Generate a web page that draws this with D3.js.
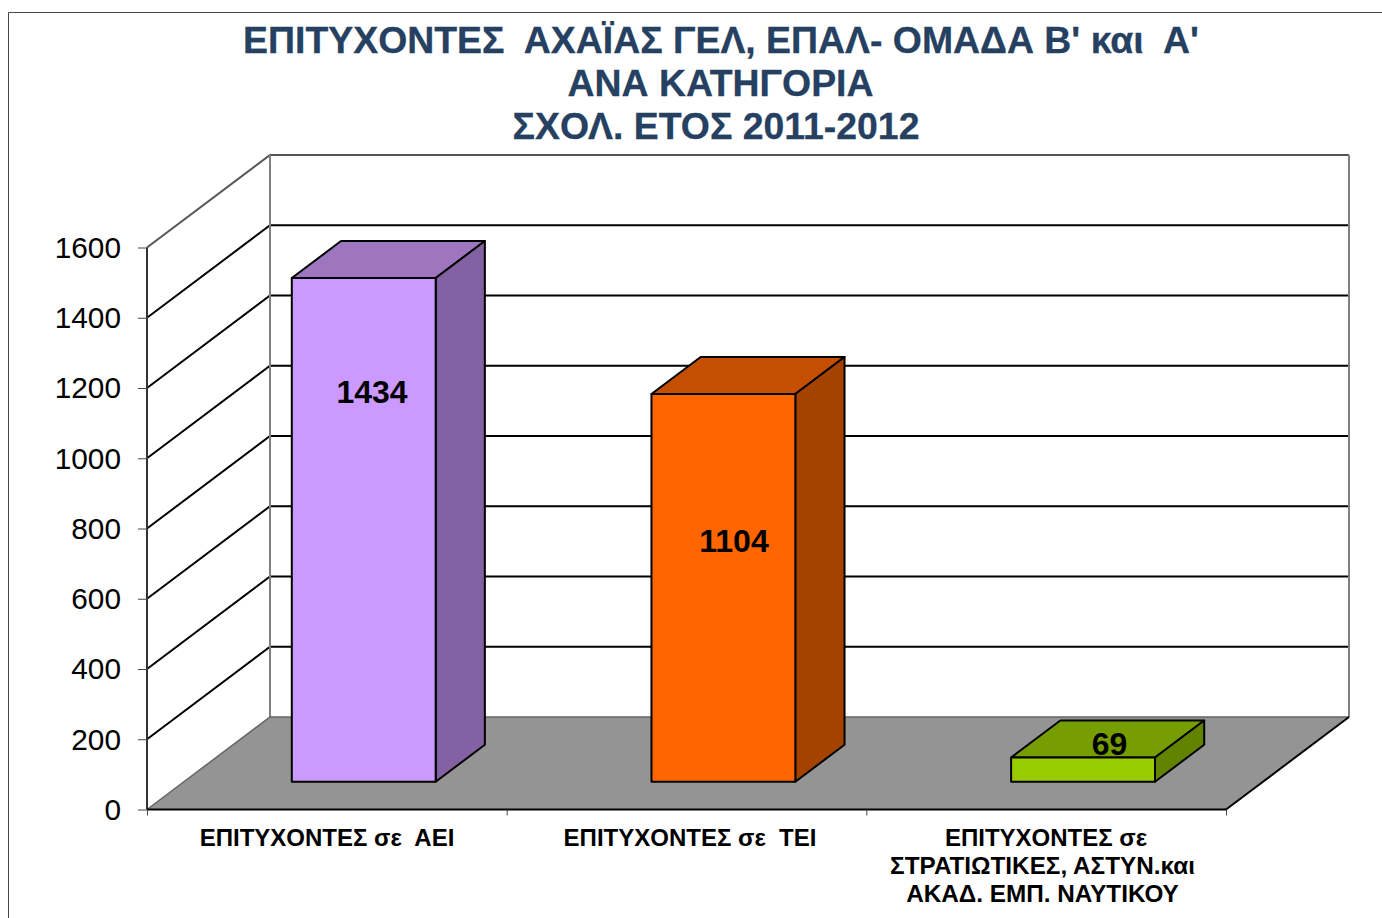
<!DOCTYPE html>
<html><head><meta charset="utf-8">
<script src="https://cdn.jsdelivr.net/npm/d3@7"></script>
<style>html,body{margin:0;padding:0;background:#fff;overflow:hidden}svg{display:block}text{font-family:"Liberation Sans",Arial,sans-serif;white-space:pre}</style>
</head><body><svg id="c" width="1382" height="918"></svg>
<script>
const titleLines = ["ΕΠΙΤΥΧΟΝΤΕΣ  ΑΧΑΪΑΣ ΓΕΛ, ΕΠΑΛ- ΟΜΑΔΑ Β' και  Α'", "ΑΝΑ ΚΑΤΗΓΟΡΙΑ", "ΣΧΟΛ. ΕΤΟΣ 2011-2012"];
const categories = ["ΕΠΙΤΥΧΟΝΤΕΣ σε  ΑΕΙ", "ΕΠΙΤΥΧΟΝΤΕΣ σε  ΤΕΙ", "ΕΠΙΤΥΧΟΝΤΕΣ σε|ΣΤΡΑΤΙΩΤΙΚΕΣ, ΑΣΤΥΝ.και|ΑΚΑΔ. ΕΜΠ. ΝΑΥΤΙΚΟΥ"];
const values = [1434, 1104, 69];
const frontColors = ["#CC99FF", "#FF6600", "#99CC00"];
const topColors = ["#9E76C0", "#C44F00", "#769E00"];
const sideColors = ["#8361A3", "#A44200", "#628300"];
const yTicks = [0, 200, 400, 600, 800, 1000, 1200, 1400, 1600];

const svg = d3.select("#c");
const x = d3.scaleBand().domain(d3.range(categories.length)).range([147, 1226]).paddingInner(0.6).paddingOuter(0.3);
const y = d3.scaleLinear().domain([0, 1600]).range([809.5, 247.5]);
const z = d3.scaleLinear().domain([0, 1]).range([0, 1]);
const depthX = 123, depthY = -92.5;
const P = (px, v, d) => [px + depthX * z(d), y(v) + depthY * z(d)];
const poly = pts => "M" + pts.map(p => p.join(",")).join("L") + "Z";
const x0 = x.range()[0], x1 = x.range()[1];

// frame
svg.append("path").attr("d", "M1382,12.5H8.5V918").attr("fill", "none").attr("stroke", "#444").attr("stroke-width", 1);

// title
svg.append("g").selectAll("text").data(titleLines).join("text")
  .attr("x", (d, i) => [721, 720.5, 716][i]).attr("y", (d, i) => 53 + i * 43)
  .attr("text-anchor", "middle").attr("font-size", 37.4).attr("font-weight", "bold").attr("fill", "#254061")
  .attr("stroke", "#254061").attr("stroke-width", 0.3).text(d => d);

// floor
svg.append("path").attr("d", poly([P(x0, 0, 0), P(x1, 0, 0), P(x1, 0, 1), P(x0, 0, 1)])).attr("fill", "#949494");

// gridlines: side wall and back wall
const grid = svg.append("g").attr("fill", "none").attr("stroke-width", 2);
grid.selectAll("path").data(yTicks.filter(t => t > 0)).join("path")
  .attr("d", t => d3.line()([P(x0, t, 0), P(x0, t, 1), P(x1, t, 1)]))
  .attr("stroke", t => t === 1600 ? "#555" : "#000");
// wall edges
svg.append("path").attr("fill", "none").attr("stroke", "#808080").attr("stroke-width", 2)
  .attr("d", d3.line()([P(x0, 0, 1), P(x0, 1600, 1)]) + d3.line()([P(x1, 0, 1), P(x1, 1600, 1)]));
svg.append("path").attr("fill", "none").attr("stroke", "#666").attr("stroke-width", 1.5)
  .attr("d", d3.line()([P(x0, 0, 0), P(x0, 0, 1), P(x1, 0, 1)]));
svg.append("path").attr("fill", "none").attr("stroke", "#000").attr("stroke-width", 2)
  .attr("d", d3.line()([P(x1, 0, 0), P(x1, 0, 1)]));

// axes
const yAxis = d3.axisLeft(y).tickValues(yTicks).tickSize(9).tickPadding(17).tickFormat(d3.format("d"));
const ga = svg.append("g").attr("transform", `translate(${x0},0)`).call(yAxis);
ga.select(".domain").attr("stroke", "#333").attr("stroke-width", 2).attr("d", `M0,${y(0)}V${y(1600)}`);
ga.selectAll("line").attr("stroke", "#444").attr("stroke-width", 1);
ga.selectAll("text").attr("font-size", 29.8).attr("fill", "#000").attr("dy", "0.33em").attr("font-family", '"Liberation Sans"');

const edges = d3.scaleLinear().domain([0, 3]).range([x0, x1]);
const gx = svg.append("g").attr("transform", `translate(0,${y(0)})`)
  .call(d3.axisBottom(edges).tickValues([0, 1, 2, 3]).tickSize(6).tickFormat(""));
gx.select(".domain").attr("stroke", "#000").attr("stroke-width", 2).attr("d", `M${x0},0H${x1}`);
gx.selectAll("line").attr("stroke", "#444").attr("stroke-width", 1);

// bars
const d0 = 0.3, d1 = 0.7;
const bars = svg.append("g").selectAll("g").data(values).join("g");
const bs = { stroke: "#000", w: 2 };
bars.each(function (v, i) {
  const g = d3.select(this), l = x(i), r = l + x.bandwidth();
  const add = (pts, fill) => g.append("path").attr("d", poly(pts)).attr("fill", fill).attr("stroke", bs.stroke).attr("stroke-width", bs.w).attr("stroke-linejoin", "round");
  add([P(l, v, d0), P(r, v, d0), P(r, v, d1), P(l, v, d1)], topColors[i]);
  add([P(r, 0, d0), P(r, v, d0), P(r, v, d1), P(r, 0, d1)], sideColors[i]);
  add([P(l, 0, d0), P(r, 0, d0), P(r, v, d0), P(l, v, d0)], frontColors[i]);
});

// value labels
const labelCenter = [372, 734, 1109.5];
const labelBase = [403, 552, 755];
svg.append("g").selectAll("text").data(values).join("text")
  .attr("x", (d, i) => labelCenter[i]).attr("y", (d, i) => labelBase[i])
  .attr("text-anchor", "middle").attr("font-size", 32).attr("font-weight", "bold").attr("fill", "#000").text(d => d);

// category labels
const catG = svg.append("g").selectAll("text").data(categories).join("text")
  .attr("text-anchor", "middle").attr("font-size", 24).attr("font-weight", "bold").attr("fill", "#000");
catG.each(function (c, i) {
  const t = d3.select(this), cx = [327, 690, 1042.5][i];
  c.split("|").forEach((s, k) => t.append("tspan").attr("x", (i === 2 && k === 0) ? 1046 : cx).attr("y", 846 + k * 28).attr("font-size", k > 0 ? 24.3 : 24).text(s));
});
</script></body></html>
